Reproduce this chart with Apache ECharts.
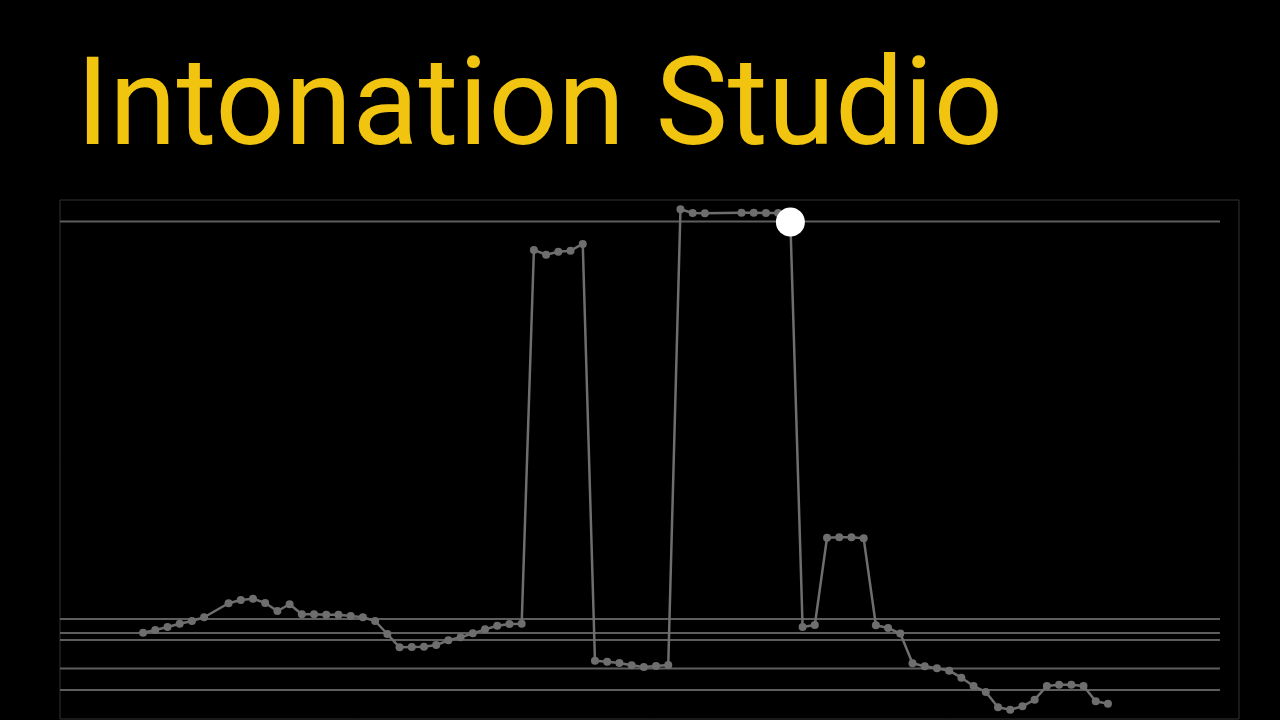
<!DOCTYPE html>
<html>
<head>
<meta charset="utf-8">
<style>
  html, body { margin: 0; padding: 0; background: #000; }
  #chart { width: 1280px; height: 720px; }
</style>
<script src="https://cdn.jsdelivr.net/npm/echarts@6/dist/echarts.min.js"></script>
</head>
<body>
<div id="chart"></div>
<script>
// Sung pitch per frame (semitones above a reference), null = unvoiced frame
const pitch = [
  12.33, 12.71, 13.14, 13.61, 14.00, 14.53, null, 16.53, 17.00, 17.19,
  16.57, 15.43, 16.39, 14.96, 14.96, 14.90, 14.90, 14.71, 14.53, 14.00,
  12.14, 10.24, 10.29, 10.33, 10.57, 11.24, 11.67, 12.24, 12.81, 13.33,
  13.57, 13.61, 67.00, 66.33, 66.76, 66.90, 67.86, 8.33, 8.19, 8.00,
  7.67, 7.43, 7.57, 7.71, 72.81, 72.29, 72.24, null, null, 72.33,
  72.33, 72.29, 72.29, 71.00, 13.14, 13.43, 25.90, 25.96, 25.96, 25.81,
  13.39, 13.00, 12.21, 7.96, 7.53, 7.24, 6.90, 5.90, 4.71, 3.86,
  1.67, 1.33, 1.81, 2.76, 4.71, 4.90, 4.90, 4.71, 2.53, 2.19
];
// Target note guide lines (semitones)
const targetNotes = [71.07, 14.29, 12.29, 11.29, 7.21, 4.14];
// Current playhead frame and its pitch
const currentFrame = 53;
const currentPitch = 71.0;

const titleText = 'Intonation Studio';

const chart = echarts.init(document.getElementById('chart'), null, { renderer: 'canvas' });

const X_MIN = -6.8, X_MAX = 89.73, GUIDE_END = 88.17;

const series = [];
targetNotes.forEach(function (v) {
  series.push({
    type: 'line',
    data: [[X_MIN, v], [GUIDE_END, v]],
    symbol: 'none',
    lineStyle: { color: '#5e5e5e', width: 2 },
    silent: true,
    z: 1
  });
});
series.push({
  type: 'line',
  data: pitch.map(function (v, i) { return [i, v]; }),
  connectNulls: true,
  symbol: 'circle',
  symbolSize: 8,
  showSymbol: true,
  lineStyle: { color: '#6e6e6e', width: 2.5 },
  itemStyle: { color: '#6e6e6e' },
  silent: true,
  z: 3
});
series.push({
  type: 'scatter',
  data: [[currentFrame, currentPitch]],
  symbol: 'circle',
  symbolSize: 29,
  itemStyle: { color: '#ffffff', opacity: 1 },
  silent: true,
  z: 5
});

chart.setOption({
  backgroundColor: '#000000',
  animation: false,
  title: {
    text: titleText,
    left: 71,
    top: 47,
    textStyle: {
      color: '#F1C40F',
      fontFamily: 'Roboto',
      fontWeight: 'normal',
      fontSize: 122
    }
  },
  grid: {
    left: 60, right: 41, top: 200, bottom: 1,
    show: true,
    borderColor: '#333333',
    borderWidth: 1,
    backgroundColor: 'transparent'
  },
  xAxis: {
    type: 'value', min: X_MIN, max: X_MAX, show: false
  },
  yAxis: {
    type: 'value', min: 0, max: 74.14, show: false
  },
  series: series
});
</script>
</body>
</html>
